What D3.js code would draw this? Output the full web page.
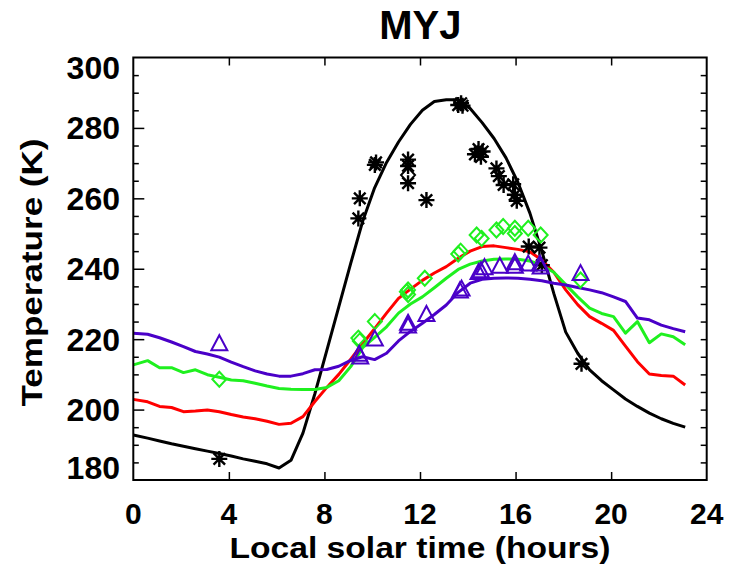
<!DOCTYPE html>
<html><head><meta charset="utf-8">
<script src="https://cdn.jsdelivr.net/npm/d3@7"></script>
<style>
html,body{margin:0;padding:0;background:#fff;}
text{font-family:"Liberation Sans",Arial,Helvetica,sans-serif;font-weight:bold;fill:#000;}
</style></head>
<body>
<svg id="chart" width="730" height="567"></svg>
<script>
// ---- data ----
const title = "MYJ";
const xTitle = "Local solar time (hours)";
const yTitle = "Temperature (K)";
const xTicks = [0, 4, 8, 12, 16, 20, 24];
const yTicks = [180, 200, 220, 240, 260, 280, 300];
const yMinorTicks = [185,190,195,205,210,215,225,230,235,245,250,255,265,270,275,285,290,295];

const times = [0, 0.6, 1.1, 1.6, 2.1, 2.6, 3.1, 3.6, 4.1, 4.6, 5.1, 5.6, 6.1, 6.6, 7.1, 7.6,
  8.1, 8.6, 9.1, 9.6, 10.1, 10.6, 11.1, 11.6, 12.1, 12.6, 13.1, 13.6, 14.1, 14.6, 15.1, 15.6,
  16.1, 16.6, 17.1, 17.6, 18.1, 18.6, 19.1, 19.6, 20.1, 20.6, 21.1, 21.6, 22.1, 22.6, 23.1];

const blackLine = [192.8, 191.9, 191.1, 190.3, 189.6, 188.9, 188.2, 187.5, 186.8, 186.0, 185.3, 184.6,
  183.4, 185.6, 193.3, 204.5, 216.8, 229.2, 241.5, 253.5, 263.0, 270.2, 276.0, 281.0, 285.0, 287.5,
  288.0, 288.0, 285.5, 281.5, 277.0, 271.5, 264.5, 255.8, 245.0, 233.0, 222.0, 216.0, 211.3, 208.2,
  205.6, 203.0, 200.9, 199.0, 197.4, 196.1, 195.0];

const redLine = [202.9, 202.2, 200.9, 200.6, 199.4, 199.6, 199.9, 199.4, 198.6, 197.9, 197.4, 196.7,
  195.8, 196.1, 198.0, 202.3, 206.3, 210.0, 214.3, 218.7, 223.0, 227.4, 231.6, 234.2, 236.7, 238.8,
  240.6, 243.0, 245.0, 246.3, 246.5, 246.0, 245.5, 244.8, 242.5, 239.0, 234.0, 229.8, 226.4, 224.5,
  222.5, 218.0, 213.6, 210.1, 209.7, 209.5, 207.0];

const greenLine = [212.7, 213.9, 211.9, 211.9, 210.5, 211.3, 209.9, 209.2, 208.4, 208.2, 207.5, 206.7,
  206.0, 205.8, 205.7, 205.7, 206.3, 208.2, 212.2, 217.6, 220.5, 223.5, 227.4, 230.0, 232.0, 234.6,
  237.3, 239.8, 241.3, 242.2, 242.7, 242.8, 242.7, 242.2, 241.0, 239.0, 235.5, 232.0, 228.8, 227.3,
  226.4, 221.7, 225.0, 219.0, 221.5, 220.7, 218.4];

const purpleLine = [221.7, 221.4, 220.4, 219.2, 217.9, 216.5, 215.8, 214.9, 213.5, 212.2, 211.0, 210.1,
  209.5, 209.5, 210.2, 211.3, 211.4, 212.3, 214.0, 215.0, 214.2, 216.0, 219.5, 222.2, 224.5, 227.0,
  229.7, 233.3, 235.9, 237.0, 237.3, 237.4, 237.3, 237.0, 236.6, 235.9, 235.4, 234.7, 234.0, 233.2,
  232.0, 230.7, 226.0, 225.5, 224.0, 223.0, 222.1];

// observations [time, temperature]
const obsStars = [[3.6,186],[9.42,254.3],[9.48,260],[10.11,269.5],[10.16,270.2],[11.5,271],[11.5,269.2],
  [11.5,264.3],[12.27,259.5],[13.6,286.5],[13.72,287],[13.78,286.3],[14.3,272.5],[14.45,274],
  [14.55,271.8],[14.62,273.3],[15.2,268.5],[15.3,266.3],[15.5,263.8],[15.9,264],[15.97,261],
  [16.05,259.3],[16.55,246.3],[17.0,246],[17.1,241],[18.76,213]];
const obsBlackDiamonds = [[11.5,266.6]];
const obsGreenDiamonds = [[3.6,208.6],[9.42,220.3],[9.48,219.5],[10.11,225],[11.45,233.5],[11.5,232.7],
  [11.5,234],[12.2,237.3],[13.6,244.2],[13.7,245],[14.37,249.6],[14.58,248.6],[15.2,251],[15.48,252],
  [15.97,251.5],[15.97,250],[16.53,251.5],[17.05,249.6],[18.72,236.8]];
const obsTriangles = [[3.6,219],[9.45,216],[9.5,215.2],[10.11,220.3],[11.5,224],[11.5,224.8],[12.27,227.3],
  [13.67,234],[13.74,234.5],[14.45,239.2],[14.55,239.7],[14.7,240.6],[15.34,241],[15.97,242],[15.97,241],
  [16.53,241.6],[17.02,241.6],[17.05,240.8],[18.72,238.9]];

const COLORS = {black:"#000000", red:"#ff0000", green:"#1ff01f", purple:"#4a00c8"};

// ---- layout ----
const L = 133.3, R = 706.7, T = 57.5, B = 480;
const svg = d3.select("#chart");
const x = d3.scaleLinear().domain([0, 24]).range([L, R]);
const y = d3.scaleLinear().domain([180, 300]).range([B, T]);

svg.append("defs").append("clipPath").attr("id","clip")
  .append("rect").attr("x",L).attr("y",T).attr("width",R-L).attr("height",B-T);

// axes (ticks only, inward)
function styleAxis(g){ g.select(".domain").remove(); g.selectAll("line").attr("stroke","#000").attr("stroke-width",1.5); g.selectAll("text").remove(); }
svg.append("g").attr("transform",`translate(0,${B})`)
  .call(d3.axisBottom(x).tickValues(xTicks.slice(1,-1)).tickSize(-8).tickFormat("")).call(styleAxis);
svg.append("g").attr("transform",`translate(0,${T})`)
  .call(d3.axisTop(x).tickValues(xTicks.slice(1,-1)).tickSize(-8).tickFormat("")).call(styleAxis);
svg.append("g").attr("transform",`translate(${L},0)`)
  .call(d3.axisLeft(y).tickValues(yTicks.slice(1,-1)).tickSize(-11).tickFormat("")).call(styleAxis);
svg.append("g").attr("transform",`translate(${L},0)`)
  .call(d3.axisLeft(y).tickValues(yMinorTicks).tickSize(-5.5).tickFormat("")).call(styleAxis);
svg.append("g").attr("transform",`translate(${R},0)`)
  .call(d3.axisRight(y).tickValues(yTicks.slice(1,-1).concat(yMinorTicks)).tickSize(-6).tickFormat("")).call(styleAxis);

// lines
const line = d3.line().x(d=>x(d[0])).y(d=>y(d[1]));
const plot = svg.append("g").attr("clip-path","url(#clip)");
[[blackLine,COLORS.black],[redLine,COLORS.red],[greenLine,COLORS.green],[purpleLine,COLORS.purple]].forEach(([vals,c])=>{
  plot.append("path").datum(times.map((t,i)=>[t,vals[i]]))
    .attr("d",line).attr("fill","none").attr("stroke",c).attr("stroke-width",3)
    .attr("stroke-linejoin","round");
});

// markers
const r = 8;
const starPath = `M0,${-r}L0,${r}M${-r},0L${r},0M${-r*0.72},${-r*0.72}L${r*0.72},${r*0.72}M${-r*0.72},${r*0.72}L${r*0.72},${-r*0.72}`;
const diamondPath = `M0,-7.5L7,0L0,7.5L-7,0Z`;
const triPath = `M0,-7.5L8,7.5L-8,7.5Z`;
function markers(data, path, color, sw){
  svg.append("g").selectAll("path").data(data).join("path")
    .attr("transform",d=>`translate(${x(d[0])},${y(d[1])})`)
    .attr("d",path).attr("fill","none").attr("stroke",color).attr("stroke-width",sw);
}
markers(obsStars, starPath, COLORS.black, 2.4);
markers(obsBlackDiamonds, diamondPath, COLORS.black, 2);
markers(obsGreenDiamonds, diamondPath, COLORS.green, 2);
markers(obsTriangles, triPath, COLORS.purple, 2);

// frame
svg.append("rect").attr("x",L).attr("y",T).attr("width",R-L).attr("height",B-T)
  .attr("fill","none").attr("stroke","#000").attr("stroke-width",2);

// tick labels
svg.append("g").selectAll("text").data(xTicks).join("text")
  .attr("x",d=>x(d)).attr("y",523.5).attr("text-anchor","middle")
  .style("font-size","30px").text(d=>d);
svg.append("g").selectAll("text").data(yTicks).join("text")
  .attr("x",120).attr("y",d=>Math.max(67, Math.min(467, y(d)))+11.5).attr("text-anchor","end")
  .style("font-size","32px").text(d=>d);

// titles
svg.append("text").attr("x",420.3).attr("y",38.5).attr("text-anchor","middle")
  .style("font-size","40px").text(title);
svg.append("text").attr("x",420).attr("y",557.5).attr("text-anchor","middle")
  .attr("textLength",381).attr("lengthAdjust","spacingAndGlyphs")
  .style("font-size","30px").text(xTitle);
svg.append("text").attr("transform","translate(41.7,272.5) rotate(-90)").attr("text-anchor","middle")
  .attr("textLength",268).attr("lengthAdjust","spacingAndGlyphs")
  .style("font-size","30px").text(yTitle);
</script>
</body></html>
